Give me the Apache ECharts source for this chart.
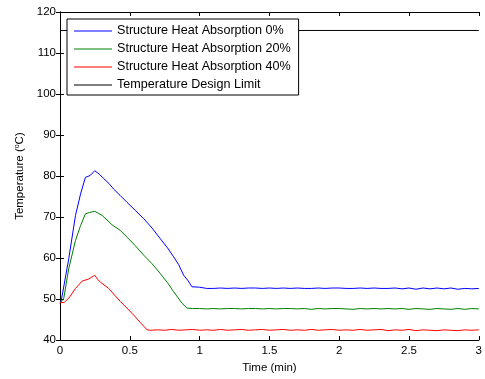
<!DOCTYPE html>
<html>
<head>
<meta charset="utf-8">
<script src="https://cdn.jsdelivr.net/npm/echarts@6/dist/echarts.min.js"></script>
<style>html,body{margin:0;padding:0;background:#fff}#c{width:485px;height:379px}</style>
</head>
<body>
<div id="c"></div>
<script>
const seriesNames = ['Structure Heat Absorption 0%', 'Structure Heat Absorption 20%', 'Structure Heat Absorption 40%', 'Temperature Design Limit'];
const xTicks = [0, 0.5, 1, 1.5, 2, 2.5, 3];
const yTicks = [40, 50, 60, 70, 80, 90, 100, 110, 120];

const blueT = [0, 0.01, 0.063, 0.111, 0.147, 0.182, 0.2, 0.218, 0.249, 0.28, 0.313, 0.35, 0.385, 0.43, 0.48, 0.54, 0.6, 0.66, 0.719, 0.77, 0.814, 0.85, 0.886, 0.915, 0.945,
  1.0, 1.05, 1.1, 1.15, 1.2, 1.25, 1.3, 1.35, 1.4, 1.45, 1.5, 1.55, 1.6, 1.65, 1.7, 1.75, 1.8, 1.85, 1.9, 1.95, 2.0, 2.05, 2.1, 2.15, 2.2, 2.25, 2.3, 2.35, 2.4, 2.45, 2.5, 2.55, 2.6, 2.65, 2.7, 2.75, 2.8, 2.85, 2.9, 2.95, 3.0];
const blueV = [49.0, 49.8, 59.9, 70.4, 75.6, 79.7, 79.9, 80.2, 81.3, 80.5, 79.4, 78.2, 76.8, 75.3, 73.6, 71.6, 69.6, 67.3, 64.7, 62.5, 60.3, 58.4, 55.8, 54.6, 53.0,
  52.9, 52.6, 52.6, 52.7, 52.6, 52.7, 52.6, 52.7, 52.7, 52.6, 52.7, 52.6, 52.7, 52.6, 52.7, 52.6, 52.6, 52.7, 52.6, 52.7, 52.7, 52.6, 52.6, 52.7, 52.6, 52.7, 52.6, 52.6, 52.7, 52.5, 52.7, 52.4, 52.7, 52.5, 52.7, 52.5, 52.7, 52.4, 52.6, 52.5, 52.6];

const greenT = [0, 0.027, 0.063, 0.111, 0.147, 0.182, 0.21, 0.249, 0.302, 0.373, 0.43, 0.48, 0.54, 0.6, 0.66, 0.719, 0.77, 0.814, 0.874, 0.91, 0.95,
  1.0, 1.05, 1.1, 1.15, 1.2, 1.25, 1.3, 1.35, 1.4, 1.45, 1.5, 1.55, 1.6, 1.65, 1.7, 1.75, 1.8, 1.85, 1.9, 1.95, 2.0, 2.05, 2.1, 2.15, 2.2, 2.25, 2.3, 2.35, 2.4, 2.45, 2.5, 2.55, 2.6, 2.65, 2.7, 2.75, 2.8, 2.85, 2.9, 2.95, 3.0];
const greenV = [49.0, 50.2, 57.5, 64.3, 67.9, 70.8, 71.1, 71.4, 70.4, 68.1, 66.8, 65.1, 63.0, 60.7, 58.6, 56.2, 54.0, 51.8, 49.0, 47.8, 47.7,
  47.7, 47.6, 47.7, 47.6, 47.7, 47.7, 47.6, 47.7, 47.7, 47.6, 47.7, 47.6, 47.7, 47.7, 47.6, 47.7, 47.5, 47.7, 47.6, 47.7, 47.7, 47.6, 47.5, 47.7, 47.6, 47.7, 47.6, 47.7, 47.6, 47.7, 47.5, 47.7, 47.6, 47.5, 47.7, 47.6, 47.5, 47.7, 47.5, 47.7, 47.6];

const redT = [0, 0.03, 0.063, 0.111, 0.159, 0.206, 0.249, 0.27, 0.29, 0.349, 0.39, 0.433, 0.48, 0.528, 0.575, 0.624, 0.648,
  0.7, 0.75, 0.8, 0.85, 0.9, 0.95, 1.0, 1.05, 1.1, 1.15, 1.2, 1.25, 1.3, 1.35, 1.4, 1.45, 1.5, 1.55, 1.6, 1.65, 1.7, 1.75, 1.8, 1.85, 1.9, 1.95, 2.0, 2.05, 2.1, 2.15, 2.2, 2.25, 2.3, 2.35, 2.4, 2.45, 2.5, 2.55, 2.6, 2.65, 2.7, 2.75, 2.8, 2.85, 2.9, 2.95, 3.0];
const redV = [49.1, 49.2, 50.2, 52.6, 54.4, 54.9, 55.8, 54.8, 54.1, 52.6, 51.0, 49.4, 47.8, 46.1, 44.3, 42.5, 42.4,
  42.5, 42.4, 42.6, 42.4, 42.5, 42.6, 42.4, 42.5, 42.4, 42.6, 42.4, 42.5, 42.6, 42.4, 42.5, 42.6, 42.4, 42.5, 42.6, 42.4, 42.5, 42.4, 42.6, 42.4, 42.5, 42.6, 42.4, 42.5, 42.4, 42.6, 42.4, 42.5, 42.6, 42.3, 42.5, 42.4, 42.6, 42.3, 42.5, 42.4, 42.3, 42.5, 42.4, 42.3, 42.5, 42.4, 42.5];

const limitT = [0, 3];
const limitV = [115.5, 115.5];

const colors = ['#0000ff', '#008000', '#ff0000', '#000000'];
const pairs = (t, v) => t.map((x, i) => [x, v[i]]);
const FONT = 'Liberation Sans, Arial, sans-serif';

const chart = echarts.init(document.getElementById('c'));
const tickStyle = { show: true, inside: true, length: 4, lineStyle: { color: '#000', width: 1 } };
const axisLineStyle = { show: true, lineStyle: { color: '#000', width: 1 } };

chart.setOption({
  animation: false,
  backgroundColor: '#fff',
  color: colors,
  grid: { left: 60, right: 6, top: 12, bottom: 37 },
  legend: {
    orient: 'vertical', left: 67, top: 19,
    data: seriesNames,
    icon: 'rect', itemWidth: 38, itemHeight: 1, itemGap: 4, itemTextGap: 5,
    padding: [5, 8, 3, 7],
    backgroundColor: '#fff', borderColor: '#000', borderWidth: 1,
    textStyle: { fontFamily: FONT, fontSize: 12.6, color: '#000', lineHeight: 14 }
  },
  xAxis: [
    { type: 'value', position: 'bottom', min: 0, max: 3, interval: 0.5,
      axisLine: axisLineStyle, axisTick: tickStyle, splitLine: { show: false },
      axisLabel: { fontFamily: FONT, fontSize: 11.5, color: '#000', margin: 5,
        formatter: v => xTicks.includes(v) ? String(v) : '' },
      name: 'Time (min)', nameLocation: 'middle', nameGap: 20,
      nameTextStyle: { fontFamily: FONT, fontSize: 11.5, color: '#000' } },
    { type: 'value', position: 'top', min: 0, max: 3, interval: 0.5,
      axisLine: axisLineStyle, axisTick: tickStyle, splitLine: { show: false },
      axisLabel: { show: false } }
  ],
  yAxis: [
    { type: 'value', position: 'left', min: 40, max: 120, interval: 10,
      axisLine: axisLineStyle, axisTick: tickStyle, splitLine: { show: false },
      axisLabel: { fontFamily: FONT, fontSize: 11.5, color: '#000', margin: 4,
        formatter: v => yTicks.includes(v) ? String(v) : '' },
      name: 'Temperature ({s|o}C)', nameLocation: 'middle', nameGap: 32,
      nameTextStyle: { fontFamily: FONT, fontSize: 11.5, color: '#000',
        rich: { s: { fontFamily: FONT, fontSize: 7, color: '#000', verticalAlign: 'top', padding: [0, 0, 5, 0] } } } },
    { type: 'value', position: 'right', min: 40, max: 120, interval: 10,
      axisLine: axisLineStyle, axisTick: tickStyle, splitLine: { show: false },
      axisLabel: { show: false } }
  ],
  series: [
    { name: seriesNames[0], type: 'line', data: pairs(blueT, blueV), symbol: 'none', lineStyle: { color: colors[0], width: 1 }, itemStyle: { color: colors[0] } },
    { name: seriesNames[1], type: 'line', data: pairs(greenT, greenV), symbol: 'none', lineStyle: { color: colors[1], width: 1 }, itemStyle: { color: colors[1] } },
    { name: seriesNames[2], type: 'line', data: pairs(redT, redV), symbol: 'none', lineStyle: { color: colors[2], width: 1 }, itemStyle: { color: colors[2] } },
    { name: seriesNames[3], type: 'line', data: pairs(limitT, limitV), symbol: 'none', lineStyle: { color: colors[3], width: 1 }, itemStyle: { color: colors[3] } }
  ]
});
</script>
</body>
</html>
